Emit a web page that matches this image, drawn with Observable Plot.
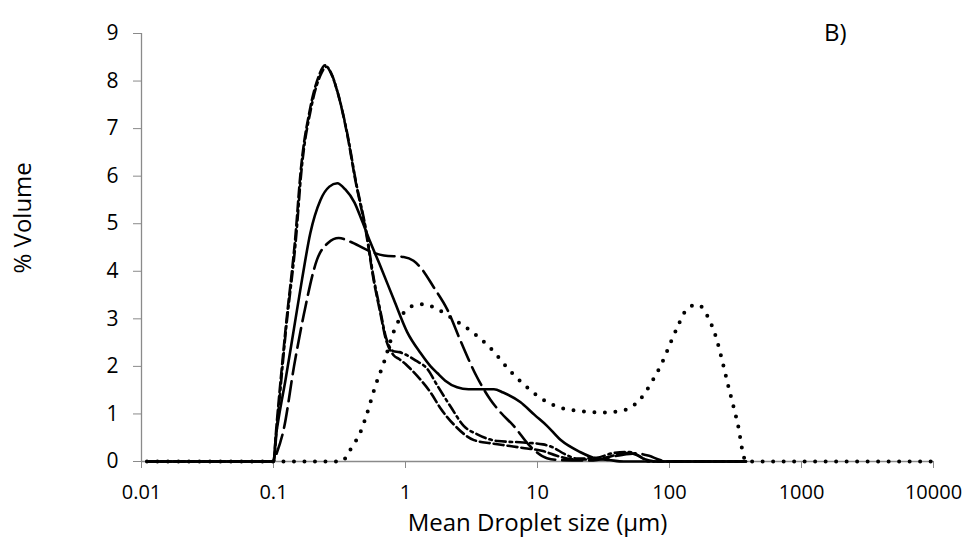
<!DOCTYPE html>
<html>
<head>
<meta charset="utf-8">
<script src="https://cdn.jsdelivr.net/npm/d3@7"></script>
<script src="https://cdn.jsdelivr.net/npm/@observablehq/plot@0.6"></script>
<style>
  body { margin: 0; background: #fff; }
  #chart svg { display: block; }
</style>
</head>
<body>
<div id="chart"></div>
<script>
// Tick values and labels
const xTicks = [0.01, 0.1, 1, 10, 100, 1000, 10000];
const xTickLabels = ["0.01", "0.1", "1", "10", "100", "1000", "10000"];
const yTicks = [0, 1, 2, 3, 4, 5, 6, 7, 8, 9];

const panelLabel = "B)";
const xTitle = "Mean Droplet size (µm)";
const yTitle = "% Volume";

// Series: [droplet size (µm), % volume]
const solidSeries = [
  [0.011,0],[0.1,0],[0.104,0.5],[0.11,0.95],[0.123,1.7],[0.143,2.8],[0.165,3.85],[0.19,4.8],
  [0.227,5.5],[0.265,5.78],[0.304,5.85],[0.35,5.72],[0.41,5.45],[0.47,5.05],[0.54,4.62],
  [0.647,4.1],[0.817,3.4],[1.03,2.72],[1.3,2.28],[1.55,2.0],[1.74,1.86],[2.0,1.7],[2.46,1.56],
  [3.0,1.52],[3.7,1.52],[4.67,1.52],[5.5,1.45],[7.4,1.25],[9.5,0.98],[11.8,0.75],[15,0.45],
  [21,0.2],[28,0.06],[35,0.03],[45,0],[380,0]
];
const longDashSeries = [
  [0.011,0],[0.1,0],[0.105,0.15],[0.12,0.7],[0.143,2.0],[0.17,3.1],[0.214,4.25],[0.26,4.6],
  [0.312,4.7],[0.383,4.62],[0.51,4.45],[0.686,4.33],[0.97,4.3],[1.15,4.22],[1.3,4.08],
  [1.64,3.66],[2.07,3.2],[2.6,2.55],[3.4,1.83],[4.4,1.3],[5.3,1.02],[6.6,0.75],[8.8,0.32],
  [11.8,0.07],[15,0.03],[25,0.02],[40,0.12],[55,0.17],[70,0.12],[85,0.03],[100,0],[380,0]
];
const dottedSeries = [
  [0.011,0],[0.33,0],[0.37,0.19],[0.41,0.38],[0.456,0.62],[0.51,1.0],[0.593,1.6],[0.686,2.08],
  [0.817,2.74],[0.97,3.13],[1.16,3.28],[1.38,3.31],[1.64,3.24],[2.32,2.99],[3.49,2.64],
  [4.7,2.3],[5.9,1.97],[7.9,1.62],[10.5,1.34],[14.9,1.13],[21,1.06],[30,1.03],[42.5,1.06],
  [60,1.31],[74,1.69],[88,2.08],[102,2.5],[118,2.9],[128,3.11],[146,3.27],[160,3.3],
  [174,3.26],[193,3.07],[223,2.65],[257,2.0],[281,1.55],[307,1.13],[335,0.68],[355,0.26],
  [380,0],[10000,0]
];
const shortDashSeries = [
  [0.011,0],[0.1,0],[0.105,0.7],[0.123,2.74],[0.147,4.78],[0.16,6.05],[0.19,7.44],[0.22,8.1],
  [0.245,8.33],[0.272,8.17],[0.304,7.79],[0.361,6.89],[0.418,5.9],[0.5,4.85],[0.575,3.8],
  [0.647,3.1],[0.705,2.6],[0.81,2.24],[0.9,2.15],[1.0,2.05],[1.09,1.95],[1.3,1.72],[1.55,1.45],
  [1.84,1.12],[2.32,0.78],[3.3,0.45],[4.5,0.38],[6,0.33],[8,0.28],[11,0.22],[14,0.12],
  [18,0.05],[25,0.04],[35,0.1],[45,0.18],[55,0.15],[65,0.05],[80,0],[380,0]
];
const dashDotSeries = [
  [0.011,0],[0.1,0],[0.106,0.7],[0.124,2.74],[0.149,4.78],[0.162,6.05],[0.193,7.44],[0.225,8.1],
  [0.252,8.3],[0.278,8.12],[0.307,7.75],[0.365,6.85],[0.42,5.9],[0.5,4.9],[0.575,3.85],
  [0.647,3.15],[0.705,2.65],[0.81,2.32],[0.9,2.3],[1.0,2.25],[1.2,2.12],[1.46,1.95],[1.74,1.6],
  [2.2,1.15],[2.76,0.75],[3.5,0.57],[5,0.43],[7.8,0.4],[11,0.36],[13,0.3],[16,0.16],[20,0.06],
  [28,0.08],[38,0.18],[50,0.2],[60,0.1],[70,0],[380,0]
];

const toRows = pts => pts.map(([x, y]) => ({x, y}));
const lineStyle = {x: "x", y: "y", stroke: "black", strokeWidth: 2.6, curve: "monotone-x"};
const axisGray = "#8a8a8a";

const chart = Plot.plot({
  width: 962,
  height: 550,
  marginLeft: 141,
  marginRight: 29,
  marginTop: 33,
  marginBottom: 89,
  style: {fontFamily: "'Open Sans', sans-serif", fontSize: "21px", background: "#fff", color: "#000"},
  x: {type: "log", domain: [0.01, 10000]},
  y: {domain: [0, 9]},
  marks: [
    Plot.ruleX([0.01], {stroke: axisGray, strokeWidth: 1.3}),
    Plot.ruleY([0], {stroke: axisGray, strokeWidth: 1.3}),
    Plot.axisX({ticks: xTicks, tickFormat: d => xTickLabels[xTicks.indexOf(d)], tickSize: 7, tickPadding: 16,
      stroke: axisGray, fill: "#000", fontSize: 20, label: null}),
    Plot.axisY({ticks: yTicks, tickFormat: d => String(d), tickSize: 8, tickPadding: 15,
      stroke: axisGray, fill: "#000", fontSize: 21, label: null}),
    Plot.line(toRows(dottedSeries), {...lineStyle, strokeWidth: 4, strokeDasharray: "0,10.5", strokeLinecap: "round"}),
    Plot.line(toRows(longDashSeries), {...lineStyle, strokeDasharray: "20,7"}),
    Plot.line(toRows(shortDashSeries), {...lineStyle, strokeDasharray: "10,4"}),
    Plot.line(toRows(dashDotSeries), {...lineStyle, strokeDasharray: "10,4,2.5,4"}),
    Plot.line(toRows(solidSeries), {...lineStyle}),
    Plot.text([xTitle], {frameAnchor: "bottom", dy: 69, fontSize: 24, fill: "#000"}),
    Plot.text([yTitle], {frameAnchor: "left", dx: -118, dy: 26, rotate: -90, fontSize: 24, fill: "#000"}),
    Plot.text([panelLabel], {frameAnchor: "top-right", dx: -87, dy: -10, fontSize: 24, fill: "#000"})
  ]
});
document.getElementById("chart").appendChild(chart);
</script>
</body>
</html>
